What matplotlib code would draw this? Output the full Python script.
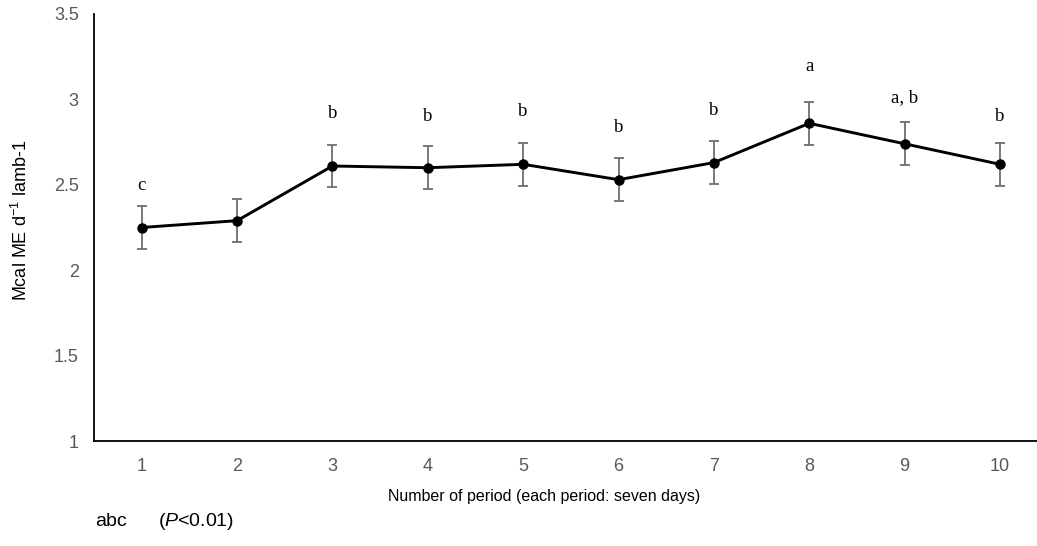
import numpy as np
import matplotlib
matplotlib.use("Agg")
import matplotlib.pyplot as plt

plt.rcParams['font.family'] = ['Liberation Sans', 'DejaVu Sans']
plt.rcParams['mathtext.fontset'] = 'custom'
plt.rcParams['mathtext.rm'] = 'Liberation Sans'
plt.rcParams['mathtext.it'] = 'Liberation Sans:italic'
plt.rcParams['mathtext.default'] = 'regular'

# data
periods = [1, 2, 3, 4, 5, 6, 7, 8, 9, 10]
energy = [2.25, 2.29, 2.61, 2.60, 2.62, 2.53, 2.63, 2.86, 2.74, 2.62]
errors = [0.125, 0.125, 0.125, 0.125, 0.125, 0.125, 0.125, 0.125, 0.125, 0.125]
letters = ['c', '', 'b', 'b', 'b', 'b', 'b', 'a', 'a, b', 'b']
yticks = [1, 1.5, 2, 2.5, 3, 3.5]

# label height above each point (pixels)
label_pad = [38, 46, 48, 47, 48, 48, 48, 52, 42, 43]

fig = plt.figure(figsize=(10.37, 5.46), dpi=100)
ax = fig.add_axes([94 / 1037, 1 - 441 / 546, (1047.7 - 94) / 1037, (441 - 14) / 546])

ax.errorbar(periods, energy, yerr=errors, fmt='none', ecolor='#6e6e6e',
            elinewidth=1.3, capsize=3.5, capthick=1.3, zorder=2)
ax.plot(periods, energy, color='black', lw=2.1, marker='o', ms=6.5, zorder=3)

for x, y, t, p in zip(periods, energy, letters, label_pad):
    if t:
        ax.annotate(t, (x, y), xytext=(0, p * 0.72), textcoords='offset points',
                    ha='center', va='baseline', fontsize=13.5,
                    family='Liberation Serif', color='black')

ax.set_xlim(0.5, 10.5)
ax.set_ylim(1, 3.5)
ax.set_xticks(periods)
ax.set_yticks(yticks)
ax.set_yticklabels(['%g' % v for v in yticks])
ax.tick_params(length=0, labelsize=13, labelcolor='#595959')
ax.tick_params(axis='x', pad=12)
ax.tick_params(axis='y', pad=11)
for s in ['top', 'right']:
    ax.spines[s].set_visible(False)
for s in ['left', 'bottom']:
    ax.spines[s].set_linewidth(1.3)
    ax.spines[s].set_color('black')

fig.text(21 / 1037, 1 - 220 / 546, 'Mcal ME d$^{-1}$ lamb-1', rotation=90,
         ha='center', va='center', fontsize=13, color='black')
fig.text(544 / 1037, 1 - 497 / 546, 'Number of period (each period: seven days)',
         ha='center', va='center', fontsize=11.5, color='black')
fig.text(95 / 1037, 1 - 521 / 546, 'abc', ha='left', va='center',
         fontsize=14, color='black')
fig.text(158 / 1037, 1 - 521 / 546, '($\\it{P}$<0.01)', ha='left', va='center',
         fontsize=14, color='black')

fig.savefig('out.png', dpi=100)
